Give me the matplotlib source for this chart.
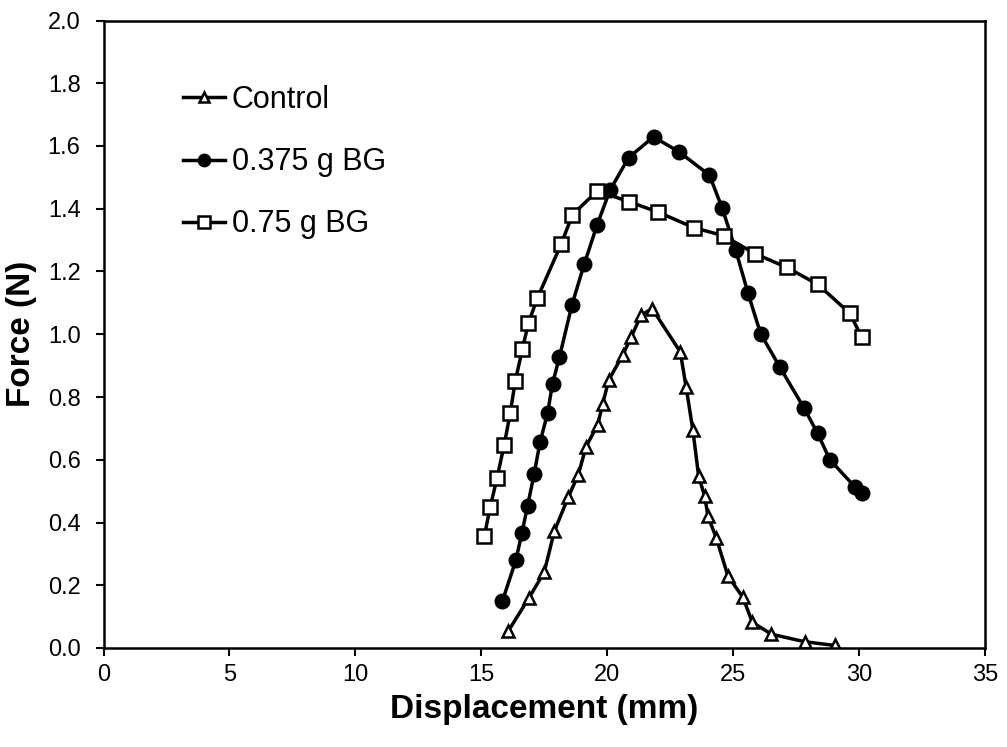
import matplotlib
matplotlib.use("Agg")
import matplotlib.pyplot as plt

plt.rcParams['font.family'] = ['Liberation Sans', 'DejaVu Sans']

ctrl_x = [16.08, 16.88, 17.50, 17.90, 18.46, 18.85, 19.16, 19.62, 19.82, 20.06,
          20.61, 20.95, 21.34, 21.78, 22.90, 23.13, 23.40, 23.63, 23.87, 24.00,
          24.33, 24.79, 25.39, 25.76, 26.52, 27.84, 29.04]
ctrl_y = [0.055, 0.158, 0.242, 0.372, 0.482, 0.552, 0.642, 0.711, 0.778, 0.854,
          0.933, 0.991, 1.060, 1.082, 0.944, 0.833, 0.695, 0.547, 0.484, 0.420,
          0.351, 0.230, 0.161, 0.082, 0.044, 0.020, 0.008]

bg375_x = [15.84, 16.37, 16.61, 16.84, 17.10, 17.33, 17.63, 17.83, 18.10, 18.60,
           19.09, 19.60, 20.11, 20.85, 21.84, 22.84, 24.06, 24.57, 25.10, 25.59,
           26.09, 26.85, 27.82, 28.35, 28.84, 29.83, 30.11]
bg375_y = [0.150, 0.279, 0.365, 0.454, 0.555, 0.655, 0.748, 0.843, 0.926, 1.094,
           1.224, 1.349, 1.459, 1.563, 1.629, 1.582, 1.507, 1.401, 1.269, 1.131,
           1.002, 0.896, 0.764, 0.685, 0.600, 0.514, 0.495]

bg75_x = [15.12, 15.35, 15.63, 15.91, 16.15, 16.35, 16.63, 16.87, 17.22, 18.18,
          18.62, 19.61, 20.88, 22.00, 23.43, 24.62, 25.86, 27.13, 28.36, 29.63, 30.11]
bg75_y = [0.356, 0.448, 0.543, 0.648, 0.749, 0.851, 0.952, 1.035, 1.114, 1.289,
          1.381, 1.457, 1.422, 1.390, 1.340, 1.314, 1.257, 1.213, 1.159, 1.067, 0.990]

fig = plt.figure(figsize=(10.07, 7.47), dpi=100)
ax = fig.add_axes([103.5/1007, (747-648)/747, (985-103.5)/1007, (648-20.5)/747])

ax.plot(ctrl_x, ctrl_y, color='black', lw=2.5, marker='^', markersize=8.5,
        markerfacecolor='white', markeredgecolor='black', markeredgewidth=1.8,
        label='Control')
ax.plot(bg375_x, bg375_y, color='black', lw=2.5, marker='o', markersize=10.5,
        markerfacecolor='black', markeredgecolor='black', label='0.375 g BG')
ax.plot(bg75_x, bg75_y, color='black', lw=2.5, marker='s', markersize=9.5,
        markerfacecolor='white', markeredgecolor='black', markeredgewidth=1.8,
        label='0.75 g BG')

ax.set_xlim(0, 35)
ax.set_ylim(0, 2.0)
ax.set_xticks(range(0, 36, 5))
ax.set_yticks([i * 0.2 for i in range(11)])
ax.set_yticklabels([f"{i*0.2:.1f}" for i in range(11)])
ax.tick_params(direction='out', length=5.5, width=1.5, labelsize=17, top=False, right=False)
ax.tick_params(axis='x', pad=6)
ax.tick_params(axis='y', pad=11)
for s in ax.spines.values():
    s.set_linewidth(1.8)

ax.set_xlabel('Displacement (mm)', fontsize=24, fontweight='bold', labelpad=6)
ax.set_ylabel('Force (N)', fontsize=24, fontweight='bold')
ax.yaxis.set_label_coords(-0.075, 0.5)

leg = ax.legend(loc='upper left', bbox_to_anchor=(0.090, 0.897), frameon=False,
                fontsize=22, handlelength=1.37, handletextpad=0.23, labelspacing=1.05,
                borderaxespad=0, borderpad=0, markerscale=0.85)

fig.savefig('out.png', dpi=100)
